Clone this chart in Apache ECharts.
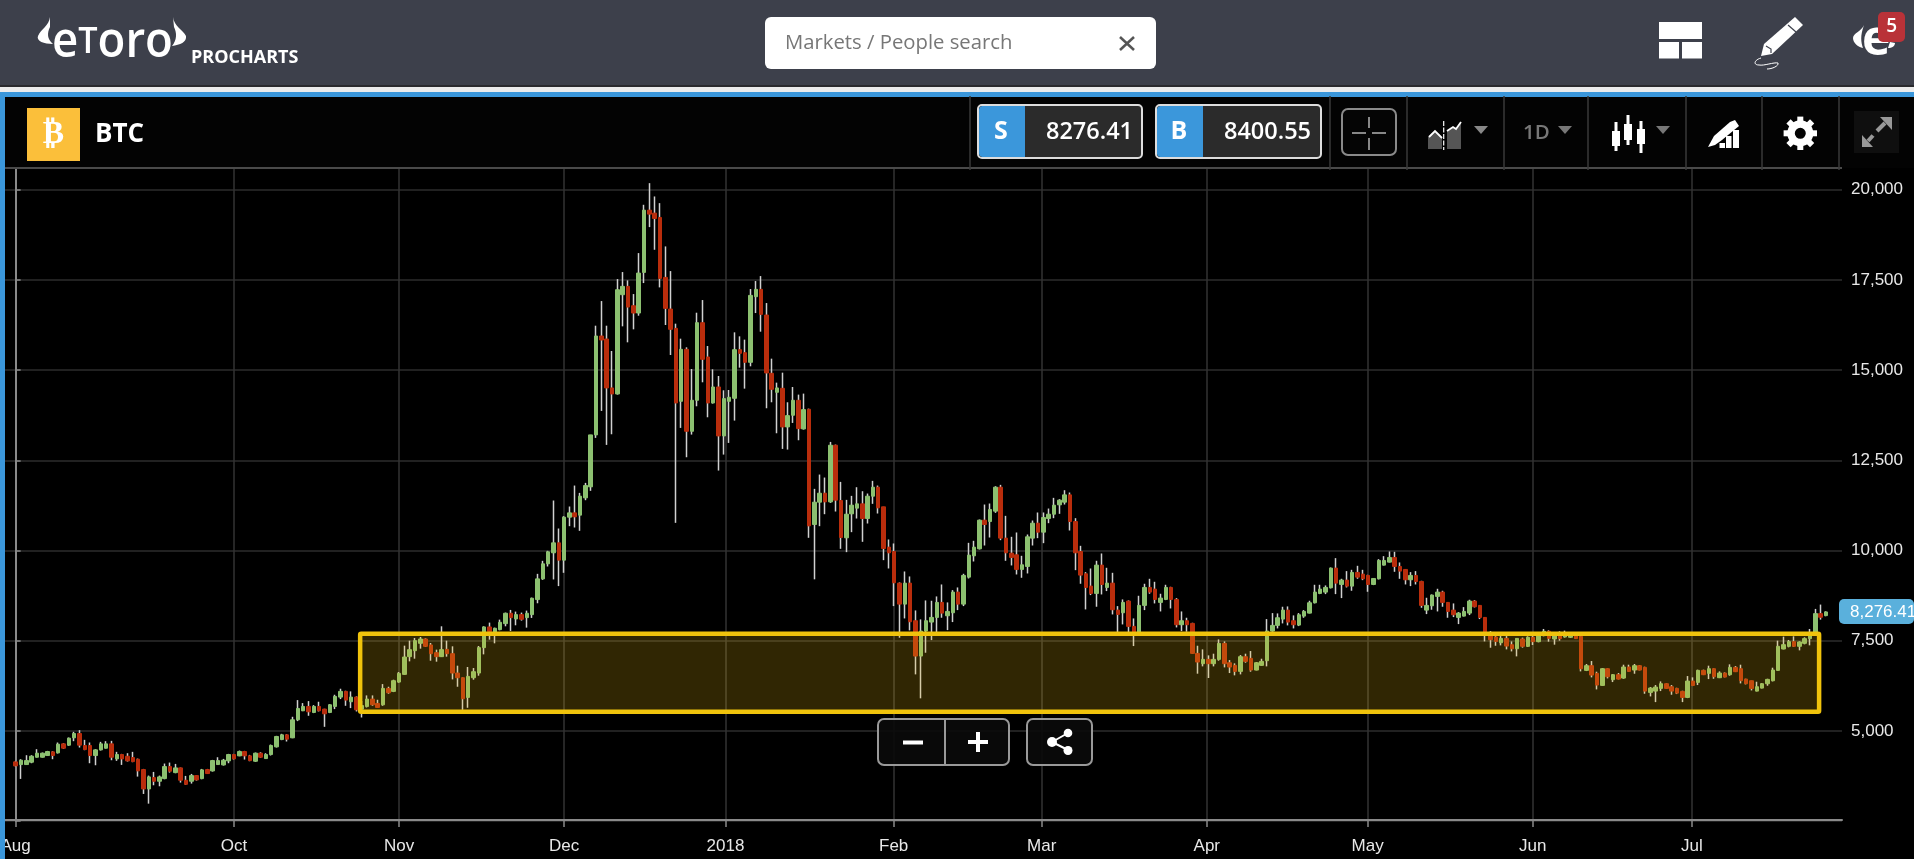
<!DOCTYPE html>
<html><head><meta charset="utf-8"><title>BTC</title>
<script src="https://cdn.jsdelivr.net/npm/echarts@6/dist/echarts.min.js"></script>
<style>html,body{margin:0;padding:0;background:#000;overflow:hidden}#c{width:1914px;height:859px}</style>
</head><body><div id="c"></div>
<script>
// Each row: [open, close, low, high], one list per labelled stretch of the axis
const candlesAug=[[4139,4028,4009,4167],[4065,4185,3667,4213],[4065,4176,4055,4324],[4130,4296,4102,4324],[4268,4380,4259,4491],[4268,4380,4259,4398],[4315,4426,4306,4444],[4417,4315,4213,4435],[4389,4630,4370,4676],[4639,4518,4500,4657],[4602,4796,4583,4815],[4806,4926,4713,4972],[4926,4602,4537,5019],[4593,4481,4463,4750],[4593,4315,4102,4676],[4315,4472,4046,4491],[4472,4639,4454,4694],[4518,4639,4509,4713],[4639,4268,4185,4722],[4222,4343,4167,4417],[4343,4222,4055,4361],[4296,4167,4148,4380],[4259,4148,4130,4417],[4213,3889,3731,4231],[3926,3389,3250,3944],[3389,3722,2981,3759],[3704,3602,3491,3861],[3602,3722,3463,3759],[3676,4009,3657,4093],[4009,3880,3842,4120],[3842,3972,3824,4083],[3972,3630,3565,3981],[3630,3518,3500,3750],[3602,3759,3537,3805],[3759,3639,3620,3768],[3676,3917,3657,3944],[3926,3815,3805,3944],[3889,4176,3870,4194],[4065,4176,4055,4268],[4055,4185,4037,4222],[4167,4343,4102,4361]];
const candlesOct=[[4343,4222,4204,4361],[4306,4426,4296,4454],[4426,4306,4204,4444],[4306,4176,4157,4333],[4157,4380,4139,4398],[4380,4268,4250,4407],[4231,4343,4222,4380],[4343,4593,4315,4620],[4556,4843,4537,4861],[4759,4889,4741,4917],[4889,4768,4704,4907],[4806,5306,4796,5389],[5306,5620,5269,5852],[5556,5676,5546,5769],[5676,5528,5417,5824],[5509,5676,5491,5713],[5676,5556,5537,5806],[5602,5472,5111,5611],[5509,5722,5491,5741],[5676,5954,5602,6000],[5935,6093,5880,6167],[6093,5852,5694,6111],[5806,5935,5630,6093],[5935,5583,5537,5954],[5600,5700,5370,5830],[5676,5880,5648,5982],[5880,5722,5694,5982],[5759,5648,5639,5861],[5722,6176,5694,6296],[6176,6056,6028,6222],[6093,6389,6074,6417]];
const candlesNov=[[6352,6593,6333,6630],[6565,7046,6556,7361],[7056,7250,6926,7500],[7222,7500,7000,7574],[7426,7546,7278,7602],[7546,7343,7324,7565],[7380,7139,6944,7435],[7167,7056,6917,7250],[7056,7250,7046,7898],[7259,7139,7056,7500],[7139,6602,6426,7343],[6602,6472,6222,6806],[6472,5889,5583,6481],[5926,6509,5639,6769],[6472,6639,6417,6741],[6602,7306,6528,7352],[7306,7880,7120,7898],[7880,7750,7528,8000],[7722,7843,7426,7861],[7806,8009,7787,8083],[7972,8259,7898,8278],[8259,8139,7769,8352],[8102,8222,7926,8306],[8222,8093,8056,8278],[8139,8259,7861,8333],[8222,8676,8130,8694],[8639,9213,8537,9352],[9213,9630,9185,9713],[9630,9963,9556,9991],[9935,10212,9197,11385],[10212,9732,9012,10609]];
const candlesDec=[[9732,10923,9381,10951],[10923,11043,10674,11219],[11043,10933,10637,11800],[10979,11505,10545,11597],[11459,11800,11394,11874],[11764,13204,11653,13204],[13204,15946,13121,16232],[15946,15835,13869,16915],[15863,14506,12927,16232],[14506,14340,13222,15531],[14340,17229,14321,17525],[17091,17322,16214,17719],[17322,16749,15771,17488],[16786,16583,16131,17109],[16583,17691,16509,18245],[17709,19436,17414,19584],[19436,19325,18965,20184],[19353,19205,18337,19815],[19233,17543,17294,19630],[17571,16712,16251,18430],[16694,16131,15420,17746],[16158,14090,10766,16288],[14136,15577,13398,15872],[15577,13305,12585,15632],[13305,14164,13213,15032],[14164,16315,13998,16592],[16315,15300,14663,16943],[15364,14090,13693,15669],[14090,14533,14072,15023],[14533,13176,12216,14838],[13176,14210,12659,14441]];
const candlesJan=[[14136,14247,12982,14450],[14219,15567,13601,16048],[15567,15466,15069,15937],[15484,15217,14487,15845],[15217,17072,15106,17248],[17036,17239,16583,17470],[17239,16546,16066,17608],[16528,14921,13943,16860],[14912,14469,14109,15318],[14386,14506,13250,14653],[14496,13425,12816,14930],[13425,13739,12798,14109],[13749,14164,13536,14533],[14164,13379,13056,14321],[13370,13906,13352,14349],[13915,10683,10351,13933],[10720,11339,9200,11708],[11339,11588,10674,12105],[11588,11348,11006,12022],[11348,12918,11320,13010],[12918,11394,11080,12936],[11385,10360,10046,11902],[10351,11006,9954,11403],[11016,11256,10508,11514],[11173,11293,10886,11754],[11293,10886,10240,11643],[10886,11505,10748,11579],[11505,11754,11293,11930],[11754,11182,11025,11800],[11210,10055,9732,11210],[10092,9935,9501,10305]];
const candlesFeb=[[9972,9104,8458,10194],[9095,8513,7581,9114],[8513,9095,8116,9418],[9095,8024,7784,9280],[8052,7073,6565,8338],[7073,7766,5901,8089],[7766,8052,7165,8615],[8015,8144,7516,8606],[8144,8560,7719,8726],[8560,8264,8135,9058],[8190,8310,7793,8560],[8273,8846,8015,8901],[8846,8513,8347,8975],[8513,9308,8458,9354],[9261,9871,9224,10212],[9852,10092,9695,10268],[10046,10840,10028,10859],[10840,10720,10138,11274],[10803,11136,10360,11302],[11090,11754,11043,11782],[11754,10342,10286,11819],[10342,9935,9714,10960],[9926,9806,9585,10379],[9880,9474,9335,10499],[9474,9603,9243,9852],[9557,10379,9363,10443],[10342,10757,10138,10831],[10757,10508,10342,11053]];
const candlesMar=[[10508,10914,10203,11053],[10886,11006,10757,11163],[11006,11256,10896,11459],[11265,11394,11016,11422],[11339,11542,11274,11671],[11542,10803,10554,11607],[10803,9935,9455,10896],[9972,9317,9077,10129],[9354,8975,8366,9400],[9012,8809,8763,9501],[8809,9594,8440,9714],[9594,9058,8781,9917],[8975,9095,8874,9520],[9095,8357,8227,9381],[8347,8227,7719,8458],[8273,8560,7950,8643],[8597,7895,7719,8615],[7895,7692,7350,8116],[7719,8477,7673,8744],[8477,8975,8347,9077],[8975,8846,8800,9215],[8929,8643,8532,9132],[8560,8680,8310,8800],[8643,8975,8624,9049],[8975,8643,8393,8994],[8643,7941,7867,8680],[7941,8052,7766,8310],[8052,7941,7747,8135],[7978,7147,7138,7996],[7147,6907,6584,7359],[6861,6981,6787,7258]];
const candlesApr=[[6981,6861,6464,7092],[6861,6981,6787,7138],[6981,7424,6944,7535],[7424,6861,6759,7479],[6888,6768,6602,6962],[6815,6648,6538,6870],[6648,7055,6565,7101],[7055,6925,6888,7138],[7008,6685,6639,7212],[6685,6888,6676,6907],[6815,6925,6805,6999],[6944,7766,6787,8098],[7766,7923,7747,8264],[7923,8135,7839,8255],[8098,8347,7978,8440],[8347,8015,7923,8449],[8052,7941,7839,8200],[7932,8218,7904,8264],[8181,8310,8135,8347],[8264,8550,8255,8606],[8550,8846,8532,9049],[8809,8929,8790,9049],[8846,8975,8790,9031],[8966,9511,8947,9529],[9511,9095,8790,9788],[9058,9178,8680,9215],[9178,9012,8975,9428],[9012,9391,8883,9464],[9391,9261,9215,9575],[9344,9215,9178,9464]];
const candlesMay=[[9308,9058,8855,9326],[9058,9224,9040,9234],[9215,9723,9197,9760],[9594,9723,9585,9843],[9677,9806,9668,9972],[9806,9557,9409,9963],[9557,9428,9215,9668],[9474,9187,9058,9483],[9187,9308,9012,9400],[9308,9141,9058,9428],[9141,8477,8412,9160],[8347,8477,8236,8689],[8467,8763,8357,8781],[8726,8846,8310,8938],[8846,8560,8440,8883],[8560,8310,8135,8569],[8347,8218,8153,8532],[8144,8264,7959,8292],[8181,8310,8172,8430],[8264,8597,8209,8634],[8597,8440,8421,8624],[8477,8144,8098,8486],[8144,7719,7479,8153],[7646,7526,7304,7766],[7600,7479,7359,7636],[7442,7562,7369,7627],[7562,7350,7258,7627],[7387,7276,7202,7479],[7276,7562,7064,7572],[7546,7343,7306,7584],[7343,7593,7324,7620]];
const candlesJun=[[7593,7472,7380,7639],[7472,7639,7454,7667],[7639,7759,7620,7824],[7759,7565,7472,7787],[7546,7639,7389,7713],[7639,7556,7500,7759],[7602,7676,7584,7778],[7593,7639,7574,7667],[7639,7556,7546,7648],[7620,6722,6648,7639],[6676,6806,6657,6852],[6806,6546,6482,6935],[6593,6269,6148,6639],[6259,6722,6250,6741],[6722,6500,6454,6732],[6417,6556,6352,6574],[6556,6435,6426,6602],[6463,6769,6444,6833],[6769,6648,6639,6833],[6685,6806,6583,6852],[6806,6685,6676,6824],[6759,6102,6028,6778],[6065,6185,5954,6213],[6102,6213,5796,6269],[6176,6306,6102,6370],[6306,6176,6167,6315],[6222,6102,6000,6269],[6176,6046,6019,6194],[6093,5926,5796,6111],[5926,6380,5907,6519]];
const candlesJul=[[6380,6259,6241,6482],[6343,6676,6269,6695],[6676,6556,6546,6695],[6593,6722,6435,6806],[6722,6500,6444,6732],[6472,6602,6463,6648],[6602,6491,6482,6620],[6556,6759,6528,6843],[6759,6639,6630,6796],[6722,6389,6315,6833],[6435,6306,6287,6444],[6389,6176,6120,6389],[6102,6222,6093,6361],[6185,6306,6176,6324],[6306,6426,6250,6444],[6389,6685,6370,6750],[6676,7343,6667,7500],[7269,7389,7259,7611],[7343,7472,7315,7519],[7472,7343,7324,7620],[7343,7463,7231,7482],[7426,7556,7398,7593],[7556,7667,7370,7824],[7667,8250,7657,8380],[8250,8148,8083,8500],[8195,8296,8176,8315]];

const tickLabels=['Aug','Oct','Nov','Dec','2018','Feb','Mar','Apr','May','Jun','Jul'];
const tickCandleIndex=[0,41,72,103,133.3,164.9,192.7,223.7,253.9,284.9,314.8];
const priceTicks=[5000,7500,10000,12500,15000,17500,20000];
const highlightBand=[[64.7,338.7,5527,7690]]; // candle index from, to, price low, high
const lastPrice='8,276.41', sellPrice='8276.41', buyPrice='8400.55';

const all=[].concat(candlesAug,candlesOct,candlesNov,candlesDec,candlesJan,candlesFeb,candlesMar,candlesApr,candlesMay,candlesJun,candlesJul);
const lead=2, trail=3;
const cats=Array.from({length:lead+all.length+trail},(_,i)=>String(i-lead));
const blank=[['-','-','-','-'],['-','-','-','-']];
const wickData=blank.concat(all);
const bodyData=blank.concat(all.map(r=>[r[0],r[1],Math.min(r[0],r[1]),Math.max(r[0],r[1])]));

const UI='"Open Sans"', CH='"Liberation Sans"';
const BLUE='#3b97db', BAR='#3d404b', G=[];
let pathNo=0;
const rect=(x,y,w,h,fill,r,stroke,lw)=>G.push({type:'rect',shape:{x,y,width:w,height:h,r:r||0},style:{fill:fill,stroke:stroke||null,lineWidth:lw||0},silent:true});
const txt=(x,y,t,size,color,o)=>G.push({type:'text',x,y,style:Object.assign({text:t,fontSize:size,fill:color,fontFamily:UI,textAlign:'left',textVerticalAlign:'middle'},o||{}),silent:true});
const path=(d,fill,stroke,lw)=>{const name='uiPath'+(pathNo++);echarts.graphic.registerShape(name,echarts.graphic.extendPath(d,{}));G.push({type:name,style:{fill:fill||'none',stroke:stroke||'none',lineWidth:lw||0},silent:true});};
const line=(a,b,c,d,col,lw)=>G.push({type:'line',shape:{x1:a,y1:b,x2:c,y2:d},style:{stroke:col,lineWidth:lw||1},silent:true});
const circ=(x,y,r,fill)=>G.push({type:'circle',shape:{cx:x,cy:y,r},style:{fill},silent:true});

// top bar
rect(0,0,1914,85,BAR); rect(0,85,1914,2,'#2a2a2e'); rect(0,87,1914,5,'#ececec'); rect(0,92,1914,5,BLUE);
rect(0,97,1914,71,'#030303'); rect(0,92,5,767,BLUE); rect(5,167,1837,2,'#4a4a4a');
path('M50 17C49 26 41 29 38 36C36 41 44 44 53 44C47 39 47 33 50 27Z','#fff');
path('M173 17C174 26 183 30 186 36C187 42 180 45 172 46C177 40 177 33 174 27Z','#fff');
G.push({type:'text',x:52,y:43,scaleX:.95,style:{text:'{a|e}{b|T}{a|oro}',fill:'#fff',textVerticalAlign:'middle',rich:{a:{fontSize:48,fontFamily:UI,fontWeight:600,fill:'#fff'},b:{fontSize:36,fontFamily:UI,fontWeight:600,fill:'#fff'}}},silent:true});
txt(191,58,'PROCHARTS',18,'#fff',{fontWeight:700});
rect(765,17,391,52,'#fff',6);
txt(785,43,'Markets / People search',20.3,'#777');
line(1120,37,1134,50,'#555',2.5); line(1134,37,1120,50,'#555',2.5);
rect(1659,22,43,17,'#fff'); rect(1659,42,20,16.5,'#fff'); rect(1682,42,20,16.5,'#fff');
path('M1795 17L1803 25L1772 54L1761 56L1764 44Z','#fff');
line(1788,25,1796,32,BAR,1.2);
path('M1766 46L1771 49L1771 53',null,BAR,1.2);
path('M1761 58C1754 60 1753 65 1759 65C1764 66 1774 62 1778 63C1779 66 1772 69 1767 69',null,'#fff',1);
path('M1864 25C1862 31 1853 33 1853 38C1853 43 1858 47 1863 48C1861 42 1860 36 1864 25Z','#fff');
txt(1862,41,'e',48,'#fff',{fontWeight:700});
path('M1895 43C1895 46 1892 48 1888 48L1890 42Z','#fff');
rect(1878,12,27,30,'#b93238',5);
txt(1891.7,27,'5',19,'#fff',{textAlign:'center',fontWeight:600});

// panel header
rect(27,108,53,53,'#fbbf3a');
txt(53.5,135,'₿',32,'#fff',{textAlign:'center',fontFamily:'"DejaVu Sans"',fontWeight:700});
txt(95,135,'BTC',26,'#fff',{fontWeight:700});
[970,1330,1407,1504,1588,1686,1762,1839].forEach(x=>line(x,96,x,170,'#3a3a3a',1.5));
rect(978,105,164,53,'#2b2b2b',4,'#ddd',2);
path('M1025 106H982A4 4 0 0 0 979 109V154A4 4 0 0 0 982 157H1025Z',BLUE);
txt(1001,132,'S',25,'#fff',{textAlign:'center',fontWeight:700});
txt(1133,132,sellPrice,23.5,'#fff',{textAlign:'right',fontWeight:600});
rect(1156,105,165,53,'#2b2b2b',4,'#ddd',2);
path('M1203 106H1160A4 4 0 0 0 1157 109V154A4 4 0 0 0 1160 157H1203Z',BLUE);
txt(1179,132,'B',25,'#fff',{textAlign:'center',fontWeight:700});
txt(1311,132,buyPrice,23.5,'#fff',{textAlign:'right',fontWeight:600});
rect(1342,109,54,46,'#050505',6,'#8a8a8a',2);
line(1369,117,1369,128,'#888',2); line(1369,138,1369,150,'#888',2); line(1352,133,1366,133,'#888',2); line(1372,133,1386,133,'#888',2);
path('M1428 149V137L1435 131L1442 138V149Z','#555');
path('M1447 149V131L1453 127L1456 129L1461 122V149Z','#555');
path('M1429 137L1435 131L1442 138',null,'#fff',1.8);
path('M1447 131L1453 127L1456 129L1461 122',null,'#fff',1.8);
G.push({type:'line',shape:{x1:1443.7,y1:121,x2:1443.7,y2:150},style:{stroke:'#fff',lineWidth:1.2,lineDash:[5,1.5]},silent:true});
const tri=(x,y,c)=>path('M'+(x-7)+' '+y+'H'+(x+7)+'L'+x+' '+(y+8)+'Z',c);
tri(1481,126,'#888'); tri(1565,126,'#777'); tri(1663,126,'#777');
txt(1523,133,'1D',20.5,'#777',{fontWeight:600});
[[1616,122,151,131,146],[1628,115,145,124,140],[1641,121,153,129,144]].forEach(c=>{line(c[0],c[1],c[0],c[2],'#fff',3);rect(c[0]-4,c[3],8,c[4]-c[3],'#fff');});
path('M1708 147L1714 136L1730 122L1735 120L1739 126L1722 140L1715 145Z','#fff');
rect(1719.5,143,5.5,5,'#fff'); rect(1726,136,5.5,12,'#fff'); rect(1733,130,6,18,'#fff');
G.push({type:'ring',shape:{cx:1800.3,cy:133.3,r:13,r0:5.5},style:{fill:'#fff'},silent:true});
for(let k=0;k<8;k++){G.push({type:'rect',x:1800.3,y:133.3,rotation:k*Math.PI/4,shape:{x:-3,y:-16.7,width:6,height:6},style:{fill:'#fff'},silent:true});}
rect(1854,111,45,42,'#0f0f0f');
path('M1880 117H1892V130Z','#999'); line(1885,123,1877,131,'#999',4);
path('M1873 147H1862V135Z','#999'); line(1868,141,1873,135.5,'#999',4);

// chart overlays
rect(1839,599,75,25,'#5ab0dc',5);
txt(1850,612,lastPrice,17,'#fff',{fontFamily:CH});
rect(878,719,131,46,'rgba(10,10,10,.9)',6,'#999',2); line(945,719,945,765,'#999',2);
rect(903,740.5,20,4,'#fff'); rect(968,740,20,4,'#fff'); rect(976,732,4,20,'#fff');
rect(1027,719,65,46,'rgba(10,10,10,.9)',6,'#999',2);
line(1052,742,1068,733,'#fff',2); line(1052,742,1068,750,'#fff',2);
circ(1068,733,4.3,'#fff'); circ(1052,742,5,'#fff'); circ(1068,750.5,4.5,'#fff');

const chart=echarts.init(document.getElementById('c'),null,{renderer:'canvas'});
chart.setOption({
  animation:false,backgroundColor:'#000',
  grid:{left:5,right:72,top:168,bottom:38,containLabel:false,outerBoundsMode:'none'},
  xAxis:[
    {type:'category',data:cats,boundaryGap:false,show:false},
    {type:'value',min:-lead,max:all.length+trail-1,position:'bottom',offset:-1,
     axisLine:{show:true,onZero:false,lineStyle:{color:'#8a8a8a',width:2}},
     axisTick:{show:true,length:7,customValues:tickCandleIndex,lineStyle:{color:'#8a8a8a',width:1.5}},
     axisLabel:{show:true,customValues:tickCandleIndex,margin:18,color:'#e8e8e8',fontSize:17,fontFamily:CH,hideOverlap:false,showMinLabel:true,showMaxLabel:true,
       formatter:v=>tickLabels[tickCandleIndex.indexOf(v)]||''},
     splitLine:{show:true,customValues:tickCandleIndex,lineStyle:{color:'#333',width:1.5}}}
  ],
  yAxis:{type:'value',position:'right',min:2500,max:20604,interval:2500,
    axisLine:{show:true,lineStyle:{color:'#8a8a8a',width:2}},
    axisTick:{show:true,length:5,lineStyle:{color:'#8a8a8a',width:1.5}},
    axisLabel:{margin:9,color:'#e8e8e8',fontSize:17,fontFamily:CH,
      formatter:v=>priceTicks.includes(v)?v.toLocaleString('en-US'):''},
    splitLine:{show:true,lineStyle:{color:'#2c2c2c',width:1.5}}},
  series:[
    {name:'BTC wicks',type:'candlestick',xAxisIndex:0,barWidth:1,data:wickData,z:3,
     itemStyle:{color:'#d0d0d0',color0:'#d0d0d0',borderColor:'#d0d0d0',borderColor0:'#d0d0d0',borderWidth:1.5}},
    {name:'BTC',type:'candlestick',xAxisIndex:0,barWidth:4,data:bodyData,z:4,
     itemStyle:{color:'#8cc070',color0:'#b92d0c',borderColor:'#8cc070',borderColor0:'#b92d0c',borderWidth:1}},
    {name:'Range',type:'custom',xAxisIndex:1,yAxisIndex:0,z:6,clip:false,data:highlightBand,
     encode:{x:[0,1],y:[2,3]},
     renderItem:(p,api)=>{
       const a=api.coord([api.value(0),api.value(3)]), b=api.coord([api.value(1),api.value(2)]);
       return {type:'rect',shape:{x:a[0],y:a[1],width:b[0]-a[0],height:b[1]-a[1],r:1},
         style:{fill:'rgba(241,190,15,0.2)',stroke:'#f0c30c',lineWidth:4.5}};
     }}
  ],
  graphic:{elements:G.map(g=>Object.assign({z:100},g))}
});
</script></body></html>
